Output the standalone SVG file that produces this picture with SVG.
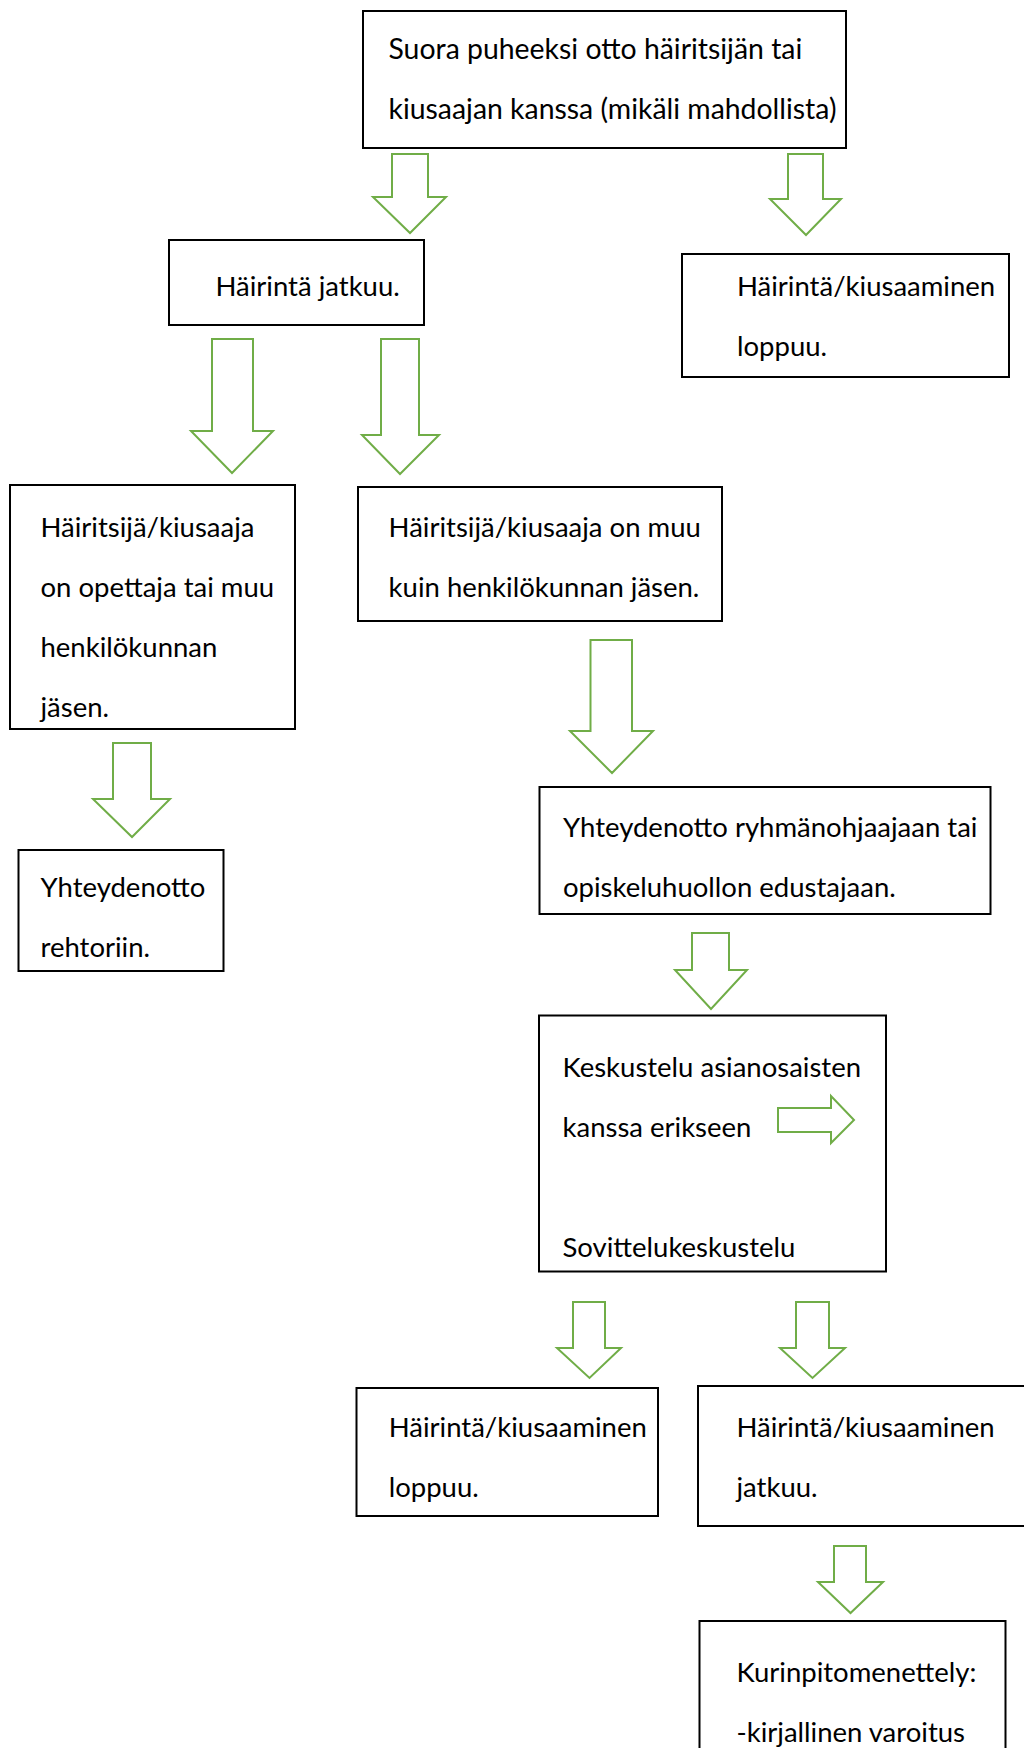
<svg xmlns="http://www.w3.org/2000/svg" width="1024" height="1748" viewBox="0 0 1024 1748">
<style>
.box{fill:#fff;stroke:#000;stroke-width:2}
.t{font-family:Lato,"Open Sans","Liberation Sans",sans-serif;font-size:27.5px;fill:#000}
.big{font-size:28.4px}
.ar{fill:#fff;stroke:#70AD47;stroke-width:2;stroke-linejoin:miter}
</style>
<rect width="1024" height="1748" fill="#fff"/>
<g id="connectors">
<polygon class="ar" points="392,154 428,154 428,197 446,197 410,233 373,197 392,197"/>
<polygon class="ar" points="788,154 823,154 823,199 841,199 806,235 770,199 788,199"/>
<polygon class="ar" points="212,339 253,339 253,431 273,431 232,473 191,431 212,431"/>
<polygon class="ar" points="381,339 419,339 419,435 439,435 400,474 362,435 381,435"/>
<polygon class="ar" points="590.5,640 632,640 632,731 653,731 612,773 570,731 590.5,731"/>
<polygon class="ar" points="113,743 151,743 151,799 170,799 132,837 93,799 113,799"/>
<polygon class="ar" points="692,933 729,933 729,970 747,970 711,1009 675,970 692,970"/>
<polygon class="ar" points="573,1302 605,1302 605,1348 621,1348 589.5,1378 557,1348 573,1348"/>
<polygon class="ar" points="796,1302 829,1302 829,1348 845,1348 812.5,1378 780,1348 796,1348"/>
<polygon class="ar" points="834,1546 866,1546 866,1582 883,1582 850.5,1613 818,1582 834,1582"/>
</g>
<g id="n1">
<rect class="box" x="363" y="11" width="483" height="137"/>
<text class="t big" x="388.5" y="59">Suora puheeksi otto häiritsijän tai</text>
<text class="t big" x="388.5" y="119">kiusaajan kanssa (mikäli mahdollista)</text>
</g>
<g id="n2">
<rect class="box" x="169" y="240" width="255" height="85"/>
<text class="t" x="215.5" y="296">Häirintä jatkuu.</text>
</g>
<g id="n3">
<rect class="box" x="682" y="254" width="327" height="123"/>
<text class="t" x="737" y="296">Häirintä/kiusaaminen</text>
<text class="t" x="737" y="356">loppuu.</text>
</g>
<g id="n4">
<rect class="box" x="10" y="485" width="285" height="244"/>
<text class="t" x="40.5" y="537">Häiritsijä/kiusaaja</text>
<text class="t" x="40.5" y="597">on opettaja tai muu</text>
<text class="t" x="40.5" y="657">henkilökunnan</text>
<text class="t" x="40.5" y="717">jäsen.</text>
</g>
<g id="n5">
<rect class="box" x="358" y="487" width="364" height="134"/>
<text class="t" x="388.6" y="537">Häiritsijä/kiusaaja on muu</text>
<text class="t" x="388.6" y="597">kuin henkilökunnan jäsen.</text>
</g>
<g id="n6">
<rect class="box" x="18.5" y="850" width="205" height="121"/>
<text class="t" x="40.5" y="897">Yhteydenotto</text>
<text class="t" x="40.5" y="957">rehtoriin.</text>
</g>
<g id="n7">
<rect class="box" x="539.5" y="787" width="451" height="127"/>
<text class="t" x="563" y="837">Yhteydenotto ryhmänohjaajaan tai</text>
<text class="t" x="563" y="897">opiskeluhuollon edustajaan.</text>
</g>
<g id="n8">
<rect class="box" x="539" y="1015.5" width="347" height="256"/>
<text class="t" x="562.5" y="1077">Keskustelu asianosaisten</text>
<text class="t" x="562.5" y="1137">kanssa erikseen</text>
<text class="t" x="562.5" y="1257">Sovittelukeskustelu</text>
<polygon class="ar" points="778,1108 831,1108 831,1096 854,1120 831,1143 831,1132 778,1132"/>
</g>
<g id="n9">
<rect class="box" x="356.5" y="1388" width="301.5" height="128"/>
<text class="t" x="388.7" y="1437">Häirintä/kiusaaminen</text>
<text class="t" x="388.7" y="1497">loppuu.</text>
</g>
<g id="n10">
<rect class="box" x="698" y="1386" width="340" height="140"/>
<text class="t" x="736.5" y="1437">Häirintä/kiusaaminen</text>
<text class="t" x="736.5" y="1497">jatkuu.</text>
</g>
<g id="n11">
<rect class="box" x="699.5" y="1621" width="306" height="140"/>
<text class="t" x="736.5" y="1682">Kurinpitomenettely:</text>
<text class="t" x="736.5" y="1742">-kirjallinen varoitus</text>
</g>
</svg>
